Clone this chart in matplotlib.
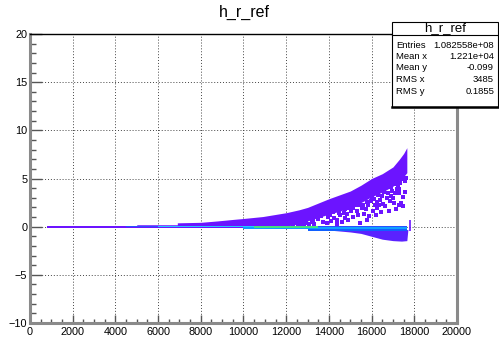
import matplotlib
matplotlib.use("Agg")
import matplotlib.pyplot as plt
from matplotlib.patches import Rectangle
from matplotlib.ticker import MultipleLocator

plt.rcParams['font.family'] = ['Liberation Sans', 'DejaVu Sans']

# upper purple band (dense bins)
band_x  = [800, 5000, 5000, 6900, 6900, 8000, 8800, 9500, 10000, 10900, 12000, 12600, 13000, 14000,
           14500, 15000, 15500, 16000, 16500, 17000, 17300, 17500, 17650]
band_hi = [0.12, 0.12, 0.2, 0.2, 0.4, 0.45, 0.6, 0.75, 0.85, 1.05, 1.45, 1.75, 2.0, 2.9,
           3.3, 3.7, 4.3, 5.0, 5.5, 6.2, 7.0, 7.6, 8.2]
band_lo = [0.0, 0.0, 0.0, 0.0, 0.05, 0.05, 0.05, 0.05, 0.05, 0.05, 0.05, 0.3, 0.6, 1.3,
           1.6, 2.0, 2.5, 3.1, 3.6, 4.2, 4.8, 5.2, 5.6]

# sparse bins below the dense band
sparse_x = [11940, 12180, 12490, 12650, 12790, 12950, 13110, 13250, 13350, 13430, 13580, 13720,
            13800, 13960, 14100, 14190, 14300, 14380, 14520, 14600, 14650, 14750, 14750, 14830,
            14900, 14990, 15000, 15130, 15250, 15300, 15460, 15460, 15550, 15650, 15700, 15770,
            15850, 15900, 16000, 16070, 16160, 16250, 16300, 16390, 16450, 16550, 16600, 16700,
            16850, 16900, 17000, 17100, 17150, 17240, 17280, 17280, 17400, 17410, 17470, 17560,
            12300, 12550, 12850, 13050, 13200, 13500, 13650, 13900, 14050, 14250, 14450, 14700,
            14850, 15050, 15200, 15350, 15400, 15600, 15750, 15950, 16100, 16200, 16350, 16500,
            16650, 16750, 16950, 17050, 17200, 17350, 17450, 17550, 17600, 17150, 16800, 15800,
            14400, 13300, 15150, 16250, 16900, 17300]
sparse_y = [0.5, 0.9, 0.7, 0.3, 1.0, 0.4, 1.55, 0.7, 1.1, 2.0, 1.4, 0.5,
            1.5, 1.0, 0.6, 1.55, 2.1, 0.7, 1.25, 0.5, 2.4, 1.8, 0.9, 1.3,
            0.7, 2.0, 2.7, 1.0, 2.2, 1.6, 2.3, 0.4, 1.9, 1.3, 2.9, 2.6,
            2.2, 1.1, 3.1, 1.6, 2.3, 1.9, 3.3, 2.8, 1.5, 2.4, 3.6, 3.0,
            2.7, 4.1, 3.0, 3.5, 4.4, 4.2, 2.3, 3.5, 2.5, 4.9, 2.1, 3.6,
            0.3, 0.15, 0.3, 0.25, 0.45, 0.8, 1.1, 0.35, 1.2, 0.9, 1.45, 1.4,
            1.9, 1.6, 2.4, 1.2, 2.6, 2.3, 1.8, 2.7, 2.9, 1.2, 2.3, 3.2,
            2.1, 3.5, 3.7, 2.5, 3.9, 4.5, 3.1, 4.7, 5.1, 1.8, 1.6, 0.7,
            0.3, 0.3, 1.9, 2.6, 3.2, 3.9]

# bins along y = 0 : (x start, x end, y low, y high)
zero_x0 = [800, 4500, 6000, 10000, 13000, 10500, 11200]
zero_x1 = [17650, 17650, 10500, 17650, 17650, 13500, 12800]
zero_lo = [-0.12, -0.05, -0.03, -0.28, -0.42, -0.1, -0.08]
zero_hi = [0.12, 0.08, 0.03, -0.02, -0.28, 0.02, -0.02]

# negative blob
neg_x  = [13400, 14000, 14500, 15000, 15500, 16000, 16500, 17000, 17400, 17650, 17700]
neg_lo = [-0.3, -0.35, -0.45, -0.55, -0.7, -1.0, -1.3, -1.45, -1.5, -1.45, -0.3]

# isolated column at the end
spike_x, spike_lo, spike_hi = 17800, -0.4, 0.7

stats_names = ["Entries", "Mean x", "Mean y", "RMS x", "RMS y"]
stats_vals = ["1.082558e+08", "1.221e+04", "-0.099", "3485", "0.1855"]

purple = '#6c14ff'

fig = plt.figure(figsize=(4.99, 3.41), dpi=100)
ax = fig.add_axes([30/499, 1-323/341, (457-30)/499, (323-34)/341])

ax.fill_between(band_x, band_lo, band_hi, color=purple, lw=0, zorder=2)
ax.scatter(sparse_x, sparse_y, marker='s', s=6, color=purple, linewidths=0, zorder=2)
ax.fill_between(neg_x, neg_lo, [-0.3]*len(neg_x), color='#5a22ff', lw=0, zorder=2)

zero_cols = [purple, '#2850ff', '#20c8ff', '#10a0ff', '#1060ff', '#40e080', '#d8e830']
for i in range(len(zero_x0)):
    ax.fill_between([zero_x0[i], zero_x1[i]], zero_lo[i], zero_hi[i],
                    color=zero_cols[i], lw=0, zorder=3)
ax.vlines(spike_x, spike_lo, spike_hi, color=purple, lw=1.2, zorder=3)

ax.set_xlim(0, 20000)
ax.set_ylim(-10, 20)
ax.xaxis.set_major_locator(MultipleLocator(2000))
ax.xaxis.set_minor_locator(MultipleLocator(500))
ax.yaxis.set_major_locator(MultipleLocator(5))
ax.yaxis.set_minor_locator(MultipleLocator(1))
ax.tick_params(axis='x', which='major', direction='in', length=5.8, width=1, color='#555555',
               labelsize=7.8, pad=3)
ax.tick_params(axis='x', which='minor', direction='in', length=2.9, width=1, color='#555555')
ax.tick_params(axis='y', which='major', direction='in', length=8.6, width=1, color='#555555',
               labelsize=7.8, pad=2)
ax.tick_params(axis='y', which='minor', direction='in', length=4.3, width=1, color='#555555')

ax.set_axisbelow(True)
ax.grid(True, which='major', ls=(0, (1, 2)), color='#444444', lw=0.7)

for s in ['left', 'bottom', 'right']:
    ax.spines[s].set_color('#8a8a8a')
    ax.spines[s].set_linewidth(2.2)
ax.spines['top'].set_color('black')
ax.spines['top'].set_linewidth(1)

fig.text(244/499, 1-12/341, 'h_r_ref', ha='center', va='center', fontsize=11.5)

# stats box
bx0, bx1 = 392/499, 498/499
by0, by1 = 1-107/341, 1-22/341
fig.patches.append(Rectangle((bx0, by0), bx1-bx0, by1-by0, transform=fig.transFigure,
                             facecolor='white', edgecolor='black', lw=0.8, zorder=5))
fig.add_artist(plt.Line2D([bx0, bx1], [by0, by0], transform=fig.transFigure, color='black', lw=1.8, zorder=6))
fig.add_artist(plt.Line2D([bx0, bx1], [1-35/341]*2, transform=fig.transFigure, color='black', lw=0.8, zorder=6))
fig.text((bx0+bx1)/2, 1-28.5/341, 'h_r_ref', ha='center', va='center', fontsize=9.5, zorder=7)
row_y = [45, 56.5, 68, 79.5, 91]
for name, val, ry in zip(stats_names, stats_vals, row_y):
    fig.text(396/499, 1-ry/341, name, ha='left', va='center', fontsize=6.8, zorder=7)
    fig.text(494/499, 1-ry/341, val, ha='right', va='center', fontsize=6.8, zorder=7)

fig.savefig('out.png', dpi=100)
